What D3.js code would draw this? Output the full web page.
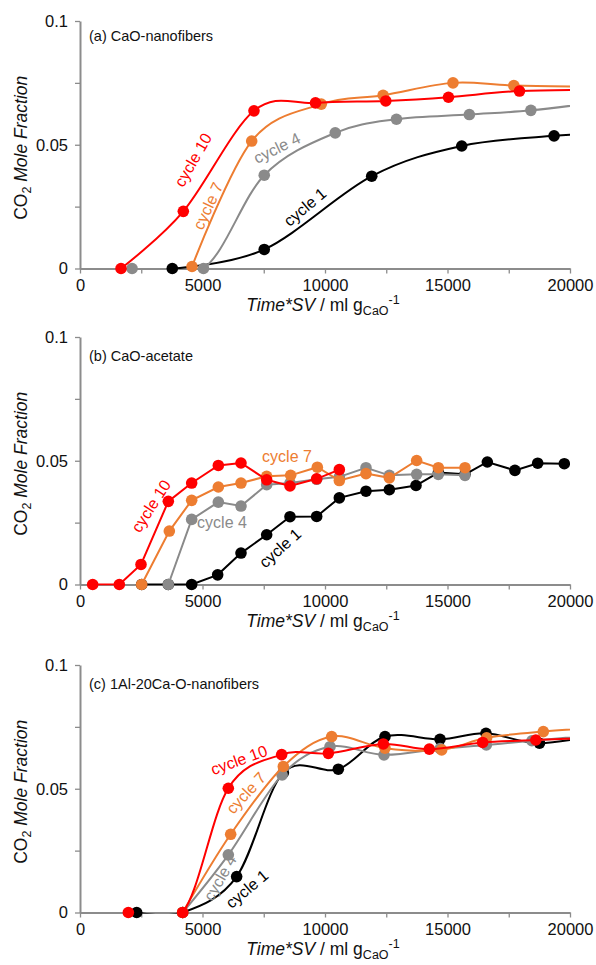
<!DOCTYPE html>
<html>
<head>
<meta charset="utf-8">
<script src="https://cdn.jsdelivr.net/npm/d3@7"></script>
<style>
  body { margin: 0; background: #fff; }
  svg text { font-family: "Liberation Sans", Arial, sans-serif; }
</style>
</head>
<body>
<script>
'use strict';

// ---- data: [Time*SV (ml/g), CO2 mole fraction] ----
const xTickValues = [0, 2500, 5000, 7500, 10000, 12500, 15000, 17500, 20000];
const xTickLabels = ["0", "", "5000", "", "10000", "", "15000", "", "20000"];
const yTickValues = [0, 0.025, 0.05, 0.075, 0.1];
const yTickLabels = ["0", "", "0.05", "", "0.1"];

const cycleNames = ["cycle 1", "cycle 4", "cycle 7", "cycle 10"];
const panelTitles = ["(a) CaO-nanofibers", "(b) CaO-acetate", "(c) 1Al-20Ca-O-nanofibers"];

// (a) CaO-nanofibers (last point of each run lies past the axis end)
const fibersCycle1 = [[3767, 0], [7520, 0.0077], [11907, 0.0373], [15581, 0.0495], [19349, 0.0536], [21500, 0.0546]];
const fibersCycle4 = [[2125, 0], [5039, 0], [7520, 0.0377], [10418, 0.0548], [12916, 0.0603], [15892, 0.0622], [18403, 0.0639], [21500, 0.0676]];
const fibersCycle7 = [[4572, 0.0008], [7008, 0.0515], [9846, 0.0664], [12372, 0.070], [15224, 0.075], [17707, 0.0739], [21500, 0.0734]];
const fibersCycle10 = [[1674, 0], [4217, 0.0231], [7101, 0.0637], [9612, 0.0669], [12481, 0.0677], [15039, 0.0692], [17938, 0.0717], [21500, 0.0722]];

// (b) CaO-acetate
const acetateCycle1 = [[2517, 0], [3605, 0], [4558, 0], [5619, 0.0039], [6571, 0.0127], [7619, 0.0201], [8571, 0.0274], [9660, 0.0275],
  [10585, 0.035], [11673, 0.0377], [12626, 0.0383], [13714, 0.040], [14626, 0.0452], [15714, 0.0445], [16626, 0.0495],
  [17752, 0.0461], [18682, 0.049], [19767, 0.0488]];
const acetateCycle4 = [[3605, 0], [4558, 0.0263], [5646, 0.0333], [6571, 0.0317], [7619, 0.0403], [8571, 0.041], [9660, 0.0425],
  [10585, 0.0435], [11673, 0.0472], [12626, 0.0441], [13741, 0.0445], [14626, 0.0445], [15714, 0.0441]];
const acetateCycle7 = [[2517, 0], [3646, 0.0216], [4558, 0.034], [5646, 0.0394], [6571, 0.041], [7619, 0.0437], [8598, 0.0441],
  [9687, 0.0474], [10585, 0.042], [11673, 0.0448], [12626, 0.0431], [13741, 0.0501], [14626, 0.0472], [15714, 0.0472]];
const acetateCycle10 = [[517, 0], [1605, 0], [2490, 0.0081], [3605, 0.0336], [4558, 0.041], [5646, 0.0481], [6571, 0.0491],
  [7619, 0.0423], [8571, 0.0398], [9660, 0.0427], [10585, 0.0464]];

// (c) 1Al-20Ca-O-nanofibers
const alCycle1 = [[2313, 0], [4190, 0], [6394, 0.0145], [8300, 0.0565], [10544, 0.0579], [12449, 0.0711], [14694, 0.070], [16571, 0.0724], [18755, 0.0684], [21500, 0.0725]];
const alCycle4 = [[4190, 0], [6054, 0.0233], [8250, 0.0556], [10204, 0.067], [12408, 0.0637], [14700, 0.0662], [16585, 0.0677], [18445, 0.0694], [21500, 0.072]];
const alCycle7 = [[4190, 0], [6150, 0.0316], [8299, 0.059], [10272, 0.0711], [12449, 0.0664], [14762, 0.0657], [16598, 0.0706], [18910, 0.0731], [21500, 0.0748]];
const alCycle10 = [[1973, 0], [4190, 0], [6054, 0.0502], [8231, 0.0638], [10136, 0.0643], [12381, 0.0681], [14258, 0.066], [16435, 0.0687], [18605, 0.0697], [21500, 0.0708]];

// ---- layout / style ----
const colors = ["#000000", "#8a8a8a", "#ed7d31", "#ff0000"];
const axisColor = "#8c8c8c";
const plotLeft = 80, plotRight = 570, plotHeight = 247.5;
const panelTops = [21, 337, 665];
const titleOffsets = [20, 24, 24];

// label placement: [centre x, centre y, rotation] per cycle, pixels
const labelPlaces = [
  [[305, 207, -40], [277, 148, -26], [208, 206, -65], [193, 160, -60]],
  [[280, 548, -42], [222, 522, 0], [287, 456, 0], [151, 506, -57]],
  [[247, 889, -40], [220, 878, -60], [246, 793, -47], [239, 760, -20]]
];

const panels = [
  { series: [fibersCycle1, fibersCycle4, fibersCycle7, fibersCycle10], smooth: true },
  { series: [acetateCycle1, acetateCycle4, acetateCycle7, acetateCycle10], smooth: false },
  { series: [alCycle1, alCycle4, alCycle7, alCycle10], smooth: true }
];

const svg = d3.select('body')
  .append('svg')
  .attr('width', 596)
  .attr('height', 965);

const xScale = d3.scaleLinear()
  .domain([0, 20000])
  .range([plotLeft, plotRight]);

panels.forEach((panel, i) => drawPanel(panel, i));

function drawPanel(panel, i) {
  const top = panelTops[i];
  const bottom = top + plotHeight;

  const yScale = d3.scaleLinear()
    .domain([0, 0.1])
    .range([bottom, top]);

  // lines are clipped to the plot area (like the spreadsheet does),
  // markers only at the right end
  svg.append('clipPath')
    .attr('id', 'lineclip' + i)
    .append('rect')
    .attr('x', plotLeft)
    .attr('y', top - 12)
    .attr('width', plotRight - plotLeft)
    .attr('height', plotHeight + 13);
  svg.append('clipPath')
    .attr('id', 'dotclip' + i)
    .append('rect')
    .attr('x', plotLeft)
    .attr('y', top - 12)
    .attr('width', plotRight - plotLeft)
    .attr('height', plotHeight + 24);

  // y axis
  const yAxis = d3.axisLeft(yScale)
    .tickValues(yTickValues)
    .tickFormat((d, k) => yTickLabels[k])
    .tickSize(5)
    .tickSizeOuter(0)
    .tickPadding(7);
  const gy = svg.append('g')
    .attr('transform', 'translate(' + plotLeft + ',0)')
    .call(yAxis);

  // x axis
  const xAxis = d3.axisBottom(xScale)
    .tickValues(xTickValues)
    .tickFormat((d, k) => xTickLabels[k])
    .tickSize(5)
    .tickSizeOuter(0)
    .tickPadding(6);
  const gx = svg.append('g')
    .attr('transform', 'translate(0,' + bottom + ')')
    .call(xAxis);

  [gx, gy].forEach(g => {
    g.select('.domain').attr('stroke', axisColor).attr('stroke-width', 2);
    g.selectAll('.tick line').attr('stroke', axisColor).attr('stroke-width', 1.3);
    g.selectAll('.tick text')
      .attr('fill', '#111')
      .style('font-family', '"Liberation Sans", Arial, sans-serif')
      .style('font-size', '16.5px');
  });

  // panel title
  svg.append('text')
    .attr('x', 89)
    .attr('y', top + titleOffsets[i])
    .attr('fill', '#111')
    .style('font-size', '14.5px')
    .text(panelTitles[i]);

  // axis titles
  const xt = svg.append('text')
    .attr('x', 323)
    .attr('y', bottom + 42)
    .attr('text-anchor', 'middle')
    .attr('fill', '#111')
    .style('font-size', '17.5px');
  xt.append('tspan').style('font-style', 'italic').text('Time*SV');
  xt.append('tspan').text(' / ml g');
  xt.append('tspan').attr('dy', 4).style('font-size', '12.5px').text('CaO');
  xt.append('tspan').attr('dy', -11).style('font-size', '12.5px').text('-1');

  const yt = svg.append('text')
    .attr('transform', 'translate(27,' + (top + plotHeight / 2 + 3) + ')rotate(-90)')
    .attr('text-anchor', 'middle')
    .attr('fill', '#111')
    .style('font-size', '17.5px');
  yt.append('tspan').text('CO');
  yt.append('tspan').attr('dy', 4).style('font-size', '12.5px').text('2');
  yt.append('tspan').attr('dy', -4).style('font-style', 'italic').text(' Mole Fraction');

  // series: cycle 1 drawn first, cycle 10 on top
  const line = d3.line()
    .x(d => xScale(d[0]))
    .y(d => yScale(d[1]))
    .curve(panel.smooth ? d3.curveCardinal.tension(0) : d3.curveLinear);

  panel.series.forEach((data, k) => {
    svg.append('path')
      .datum(data)
      .attr('clip-path', 'url(#lineclip' + i + ')')
      .attr('d', line)
      .attr('fill', 'none')
      .attr('stroke', colors[k])
      .attr('stroke-width', 2);

    svg.append('g')
      .attr('clip-path', 'url(#dotclip' + i + ')')
      .selectAll('circle')
      .data(data)
      .enter()
      .append('circle')
        .attr('cx', d => xScale(d[0]))
        .attr('cy', d => yScale(d[1]))
        .attr('r', 5.8)
        .attr('fill', colors[k]);
  });

  // cycle labels
  labelPlaces[i].forEach((p, k) => {
    svg.append('text')
      .attr('transform', 'translate(' + p[0] + ',' + p[1] + ')rotate(' + p[2] + ')')
      .attr('text-anchor', 'middle')
      .attr('dy', '0.35em')
      .attr('fill', colors[k])
      .style('font-size', '16px')
      .text(cycleNames[k]);
  });
}
</script>
</body>
</html>
